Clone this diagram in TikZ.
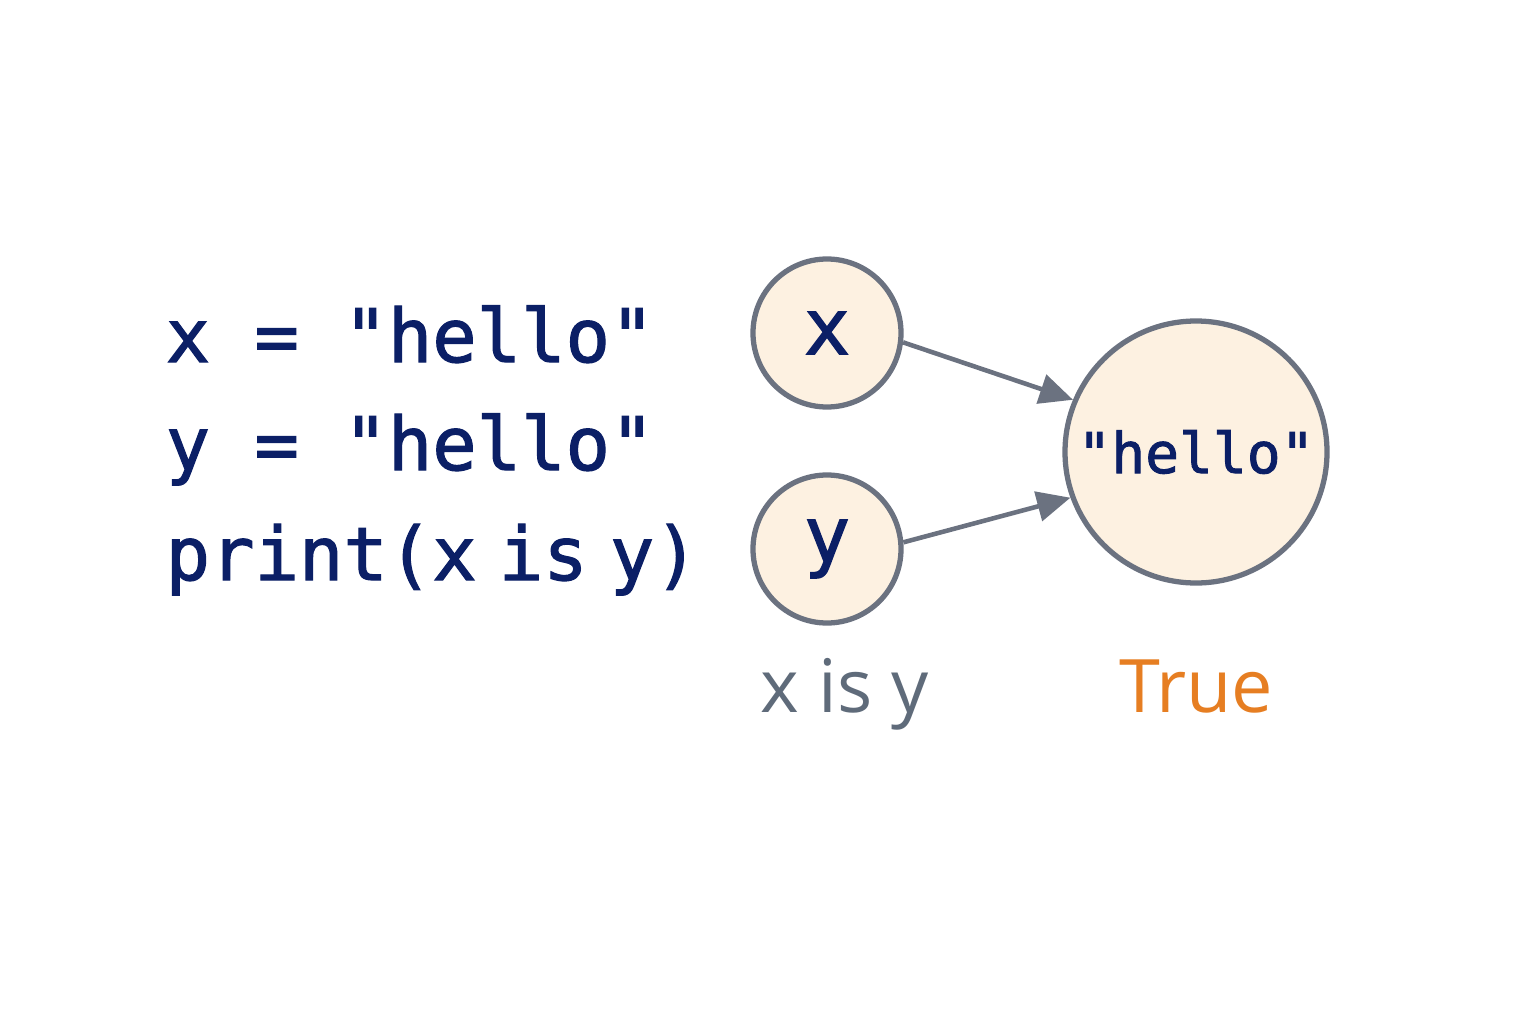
\documentclass[tikz,border=0pt]{standalone}
\usepackage{fontspec}
\setmonofont{DejaVu Sans Mono}[FakeBold=1.6]
\setsansfont{Open Sans}
\usetikzlibrary{arrows.meta}

\definecolor{codeblue}{HTML}{0B1F66}
\definecolor{ringgray}{HTML}{6B7280}
\definecolor{cream}{HTML}{FDF1E1}
\definecolor{labelgray}{HTML}{5F6B7A}
\definecolor{trueorange}{HTML}{E67E22}

\begin{document}
\begin{tikzpicture}
   \tikzstyle{code line}=[anchor=base west, inner sep=0pt, text=codeblue, font=\ttfamily\fontsize{21}{25}\selectfont]
   \tikzstyle{varbox}=[draw=ringgray, line width=1.5pt, circle, fill=cream, text=codeblue, minimum size=1.48cm, inner sep=0pt, font=\ttfamily\fontsize{22}{26}\selectfont]
   \tikzstyle{refarrow}=[draw=ringgray, line width=1.3pt, -{Triangle[length=9.5pt,width=8.5pt]}]

\useasboundingbox (0,0) rectangle (15.36,10.24);

% the code
\node[code line] (line1) at (1.65,6.62) {x = "hello"};
\node[code line] (line2) at (1.65,5.54) {y = "hello"};
\node[code line] (line3) at (1.65,4.44) {print(x\hspace{0.3em}is\hspace{0.3em}y)};

% names and the object
\node[varbox] (x) at (8.27,6.91) {x};
\node[varbox] (y) at (8.27,4.75) {y};
\node[varbox, minimum size=2.62cm, font=\ttfamily\fontsize{16}{19}\selectfont] (hello) at (11.96,5.72) {"hello"};

\draw[refarrow] (x.-7) -- (hello.157);
\draw[refarrow] (y.5) -- (hello.200);

% results
\node[anchor=base, inner sep=0pt, text=labelgray, font=\sffamily\fontsize{21}{25}\selectfont] (test) at (8.45,3.12) {x is y};
\node[anchor=base, inner sep=0pt, text=trueorange, font=\sffamily\fontsize{21}{25}\selectfont] (result) at (11.96,3.12) {True};

\end{tikzpicture}
\end{document}
